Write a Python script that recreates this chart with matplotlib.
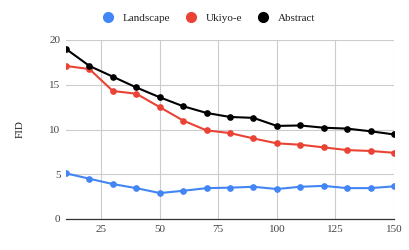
import matplotlib.pyplot as plt
from matplotlib.lines import Line2D

steps = [10, 20, 30, 40, 50, 60, 70, 80, 90, 100, 110, 120, 130, 140, 150]
landscape = [5.1, 4.5, 3.9, 3.45, 2.9, 3.15, 3.45, 3.5, 3.6, 3.35, 3.6, 3.7, 3.45, 3.45, 3.65]
ukiyoe = [17.1, 16.75, 14.3, 14.0, 12.5, 11.0, 9.9, 9.6, 9.0, 8.45, 8.3, 8.0, 7.7, 7.6, 7.4]
abstract = [19.0, 17.1, 15.9, 14.7, 13.6, 12.6, 11.85, 11.4, 11.3, 10.4, 10.45, 10.2, 10.1, 9.8, 9.45]

series = [("Landscape", landscape, "#4285F4"),
          ("Ukiyo-e", ukiyoe, "#EA4335"),
          ("Abstract", abstract, "#000000")]

plt.rcParams['font.family'] = ['Liberation Serif', 'DejaVu Serif']

fig = plt.figure(figsize=(4.1, 2.5), dpi=100)
ax = fig.add_axes([66 / 410, 1 - 219 / 250, 328 / 410, 179 / 250])

for name, vals, col in series:
    ax.plot(steps, vals, color=col, lw=1.5, marker='o', ms=3.8, label=name, zorder=3)

ax.set_xlim(10, 150)
ax.set_ylim(0, 20)
ax.set_xticks([25, 50, 75, 100, 125, 150])
ax.set_yticks([0, 5, 10, 15, 20])
ax.grid(True, color='#cccccc', lw=0.8)
ax.set_axisbelow(True)
for s in ['top', 'right', 'left']:
    ax.spines[s].set_visible(False)
ax.spines['bottom'].set_color('#333333')
ax.spines['bottom'].set_linewidth(0.9)
ax.tick_params(length=0, labelsize=8, colors='#444444', pad=4)
ax.set_ylabel("FID", fontsize=8, color='#222222', labelpad=18)

handles = [Line2D([], [], ls='', marker='o', ms=7, color=c) for _, _, c in series]
fig.legend(handles, [n for n, _, _ in series], loc='center', bbox_to_anchor=(206 / 410, 1 - 18 / 250),
           ncol=3, frameon=False, fontsize=8, handletextpad=0.3, columnspacing=0.9,
           labelcolor='#222222')

fig.savefig('out.png', dpi=100)
